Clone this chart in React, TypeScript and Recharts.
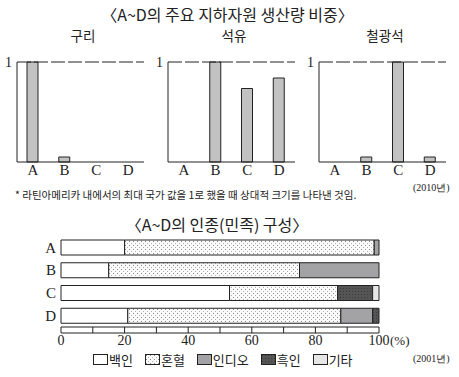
import { Bar, BarChart, ReferenceLine, XAxis, YAxis } from 'recharts'

const REGIONS = ['A', 'B', 'C', 'D']

// relative production (max country = 1)
const COPPER = [1, 0.05, 0, 0]
const OIL = [0, 1, 0.735, 0.84]
const IRON = [0, 0.05, 1, 0.05]
const RESOURCE_TITLES = ['구리', '석유', '철광석']

// ethnic composition (%)
const WHITE = [20, 15, 53, 21]
const MIXED = [78.5, 60, 34, 67]
const INDIO = [1.5, 25, 0, 10]
const BLACK = [0, 0, 11, 2]
const OTHER = [0, 0, 2, 0]
const PCT_TICKS = [0, 10, 20, 30, 40, 50, 60, 70, 80, 90, 100]
const PCT_LABELS = [0, 20, 40, 60, 80, 100]

const KR = '"Noto Sans CJK KR", "Noto Sans", sans-serif'
const SERIF = '"Liberation Serif", "DejaVu Serif", serif'

const C = {
  bar: '#c2c2c2',
  line: '#222',
  indio: '#a3a3a5',
  other: '#e6e6e6',
  text: '#222',
}

const LEGEND = [
  { name: '백인', fill: '#fff' },
  { name: '혼혈', fill: 'url(#dots)' },
  { name: '인디오', fill: C.indio },
  { name: '흑인', fill: 'url(#darkdots)' },
  { name: '기타', fill: C.other },
]

// layout of the ethnic bar chart
const ETH_W = 459
const ETH_Y_W = 61
const ETH_RIGHT = 80
const ETH_PLOT_W = ETH_W - ETH_Y_W - ETH_RIGHT

function ResourcePanel({ values, title, left }: { values: number[]; title: string; left: number }) {
  const data = REGIONS.map((r, i) => ({ region: r, v: values[i] }))
  return (
    <div style={{ position: 'absolute', left, top: 25, width: 150 }}>
      <div style={{ textAlign: 'center', paddingLeft: 16, fontFamily: KR, fontSize: 13.5, color: C.text, height: 25 }}>
        {title}
      </div>
      <BarChart width={150} height={134} data={data} margin={{ top: 12, right: 6, bottom: 0, left: 0 }} barSize={11}>
        <YAxis
          width={17}
          domain={[0, 1]}
          ticks={[1]}
          interval={0}
          axisLine={{ stroke: C.line }}
          tickLine={false}
          tickSize={0}
          tickMargin={5}
          tick={{ fontSize: 14, fill: C.text, fontFamily: SERIF }}
        />
        <XAxis
          dataKey="region"
          height={22}
          interval={0}
          axisLine={{ stroke: C.line }}
          tickLine={false}
          tickSize={0}
          tickMargin={2}
          tick={{ fontSize: 15, fill: C.text, fontFamily: SERIF }}
        />
        <ReferenceLine y={1} stroke={C.line} strokeDasharray="14 3" />
        <Bar dataKey="v" fill={C.bar} stroke={C.line} strokeWidth={1} isAnimationActive={false} />
      </BarChart>
    </div>
  )
}

// ruler tick: bottom line of the ruler strip + labels every 20
function PctTick(props: { x?: number; y?: number; index?: number; payload?: { value: number } }) {
  const { x = 0, y = 0, index, payload } = props
  const v = payload?.value ?? 0
  const showLabel = PCT_LABELS.includes(v)
  return (
    <g>
      {index === 0 && <line x1={x} x2={x + ETH_PLOT_W} y1={y} y2={y} stroke={C.line} />}
      {showLabel && (
        <text x={x} y={y + 12} textAnchor="middle" fontSize={14} fontFamily={SERIF} fill={C.text}>
          {v}
        </text>
      )}
      {v === 100 && (
        <text x={x + 11} y={y + 12} textAnchor="start" fontSize={13} fontFamily={SERIF} fill={C.text}>
          (%)
        </text>
      )}
    </g>
  )
}

export default function App() {
  const ethnic = REGIONS.map((r, i) => ({
    region: r,
    white: WHITE[i],
    mixed: MIXED[i],
    indio: INDIO[i],
    black: BLACK[i],
    other: OTHER[i],
  }))

  return (
    <div style={{ position: 'absolute', left: 0, top: 0, width: 459, height: 377, background: '#fff', overflow: 'hidden' }}>
      <svg width={0} height={0} style={{ position: 'absolute' }}>
        <defs>
          <pattern id="dots" width={4} height={4} patternUnits="userSpaceOnUse">
            <rect width={4} height={4} fill="#fafafa" />
            <rect x={1} y={1} width={1} height={1} fill="#8a8a8a" />
            <rect x={3} y={3} width={1} height={1} fill="#b0b0b0" />
          </pattern>
          <pattern id="darkdots" width={3} height={3} patternUnits="userSpaceOnUse">
            <rect width={3} height={3} fill="#555" />
            <rect x={1} y={1} width={1} height={1} fill="#3a3a3a" />
          </pattern>
        </defs>
      </svg>

      <div style={{ position: 'absolute', left: 0, top: 2, width: 455, textAlign: 'center', fontFamily: KR, fontSize: 16, color: C.text }}>
        〈A~D의 주요 지하자원 생산량 비중〉
      </div>

      <ResourcePanel values={COPPER} title={RESOURCE_TITLES[0]} left={0} />
      <ResourcePanel values={OIL} title={RESOURCE_TITLES[1]} left={151} />
      <ResourcePanel values={IRON} title={RESOURCE_TITLES[2]} left={302} />

      <div style={{ position: 'absolute', left: 413, top: 181, fontFamily: SERIF, fontSize: 10, color: C.text }}>(2010년)</div>
      <div style={{ position: 'absolute', left: 15, top: 187, fontFamily: KR, fontSize: 10.5, color: C.text }}>
        * 라틴아메리카 내에서의 최대 국가 값을 1로 했을 때 상대적 크기를 나타낸 것임.
      </div>

      <div style={{ position: 'absolute', left: 0, top: 212, width: 434, textAlign: 'center', fontFamily: KR, fontSize: 16, color: C.text }}>
        〈A~D의 인종(민족) 구성〉
      </div>

      <div style={{ position: 'absolute', left: 0, top: 236 }}>
        <BarChart
          layout="vertical"
          width={ETH_W}
          height={117}
          data={ethnic}
          margin={{ top: 0, right: ETH_RIGHT, bottom: 0, left: 0 }}
          barSize={15}
          barCategoryGap={0}
        >
          <YAxis
            type="category"
            dataKey="region"
            width={ETH_Y_W}
            interval={0}
            axisLine={false}
            tickLine={false}
            tickSize={0}
            tickMargin={5}
            tick={{ fontSize: 15, fill: C.text, fontFamily: SERIF }}
          />
          <XAxis
            type="number"
            domain={[0, 100]}
            ticks={PCT_TICKS}
            interval={0}
            height={26}
            tickSize={6}
            tickMargin={0}
            axisLine={{ stroke: C.line }}
            tickLine={{ stroke: C.line }}
            tick={<PctTick />}
          />
          <Bar dataKey="white" stackId="s" fill="#fff" stroke={C.line} isAnimationActive={false} />
          <Bar dataKey="mixed" stackId="s" fill="url(#dots)" stroke={C.line} isAnimationActive={false} />
          <Bar dataKey="indio" stackId="s" fill={C.indio} stroke={C.line} isAnimationActive={false} />
          <Bar dataKey="black" stackId="s" fill="url(#darkdots)" stroke={C.line} isAnimationActive={false} />
          <Bar dataKey="other" stackId="s" fill={C.other} stroke={C.line} isAnimationActive={false} />
        </BarChart>
      </div>

      <div style={{ position: 'absolute', left: 93, top: 350, display: 'flex', alignItems: 'center', fontFamily: KR, fontSize: 13, color: C.text }}>
        {LEGEND.map((l) => (
          <span key={l.name} style={{ display: 'flex', alignItems: 'center', marginRight: 12 }}>
            <svg width={15} height={11} style={{ marginRight: 1 }}>
              <rect x={0.5} y={0.5} width={14} height={10} fill={l.fill} stroke={C.line} />
            </svg>
            {l.name}
          </span>
        ))}
      </div>
      <div style={{ position: 'absolute', left: 413, top: 352, fontFamily: SERIF, fontSize: 10, color: C.text }}>(2001년)</div>
    </div>
  )
}
